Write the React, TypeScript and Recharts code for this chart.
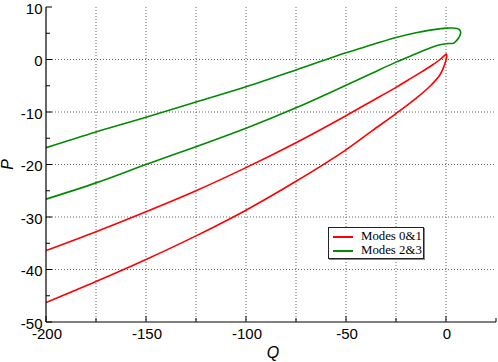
import React from "react";
import { LineChart, Line, XAxis, YAxis, CartesianGrid, Legend } from "recharts";

// Modes 0&1 (red loop): lower branch out to the tip, then upper branch back
const modes01Q = [-200, -175, -150, -125, -100, -75, -50, -37, -25, -15, -8, -3, -1, 0, 0.4, 0.2, -0.8, -3, -7, -12, -18, -25, -37, -50, -75, -100, -125, -150, -175, -200];
const modes01P = [-46.3, -42.3, -38.1, -33.6, -28.7, -23.2, -17.2, -13.6, -10.3, -7.4, -5.1, -2.9, -1.3, -0.1, 0.6, 1.05, 0.75, 0.0, -1.1, -2.3, -3.7, -5.3, -7.9, -10.7, -15.85, -20.6, -25.0, -29.0, -32.8, -36.4];

// Modes 2&3 (green loop)
const modes23Q = [-200, -175, -150, -125, -100, -75, -50, -37, -25, -15, -8, -3, 0, 2, 3.7, 5, 6.3, 7.1, 7.3, 6.8, 5.5, 3, 0, -3, -8, -15, -25, -37, -50, -75, -100, -125, -150, -175, -200];
const modes23P = [-26.6, -23.5, -20.0, -16.6, -13.1, -9.2, -4.9, -2.6, -0.5, 1.1, 2.2, 2.8, 3.0, 3.05, 3.1, 3.5, 4.1, 4.7, 5.2, 5.65, 5.9, 6.0, 5.97, 5.85, 5.6, 5.1, 4.2, 2.8, 1.3, -2.0, -5.2, -8.1, -11.0, -13.8, -16.8];

const xTicks = [-200, -175, -150, -125, -100, -75, -50, -25, 0, 25];
const yTicks = [-50, -45, -40, -35, -30, -25, -20, -15, -10, -5, 0, 5, 10];
const xGrid = [-175, -150, -125, -100, -75, -50, -25, 0];
const yGrid = [-40, -30, -20, -10, 0];

const seriesNames = ["Modes 0&1", "Modes 2&3"];
const seriesColors = ["#ff0000", "#008b00"];

const modes01 = modes01Q.map((q, i) => ({ q, p: modes01P[i] }));
const modes23 = modes23Q.map((q, i) => ({ q, p: modes23P[i] }));

const FONT = "'Liberation Sans', Arial, Helvetica, sans-serif";

// centripetal Catmull-Rom curve factory (smooth path through the data points)
const smoothCurve = (context: any) => {
  let pts: number[][] = [];
  return {
    areaStart() {},
    areaEnd() {},
    lineStart() {
      pts = [];
    },
    point(x: number, y: number) {
      pts.push([+x, +y]);
    },
    lineEnd() {
      if (!pts.length) return;
      context.moveTo(pts[0][0], pts[0][1]);
      const d = (a: number[], b: number[]) => Math.hypot(b[0] - a[0], b[1] - a[1]);
      for (let i = 0; i < pts.length - 1; i++) {
        const p1 = pts[i];
        const p2 = pts[i + 1];
        const p0 = i > 0 ? pts[i - 1] : p1;
        const p3 = i + 2 < pts.length ? pts[i + 2] : p2;
        const l01_2a = d(p0, p1), l12_2a = d(p1, p2), l23_2a = d(p2, p3);
        const l01_a = Math.sqrt(l01_2a), l12_a = Math.sqrt(l12_2a), l23_a = Math.sqrt(l23_2a);
        let c1x = p1[0], c1y = p1[1], c2x = p2[0], c2y = p2[1];
        if (l01_a > 1e-9) {
          const a = 2 * l01_2a + 3 * l01_a * l12_a + l12_2a;
          const n = 3 * l01_a * (l01_a + l12_a);
          c1x = (p1[0] * a - p0[0] * l12_2a + p2[0] * l01_2a) / n;
          c1y = (p1[1] * a - p0[1] * l12_2a + p2[1] * l01_2a) / n;
        }
        if (l23_a > 1e-9) {
          const b = 2 * l23_2a + 3 * l23_a * l12_a + l12_2a;
          const m = 3 * l23_a * (l23_a + l12_a);
          c2x = (p2[0] * b + p1[0] * l23_2a - p3[0] * l12_2a) / m;
          c2y = (p2[1] * b + p1[1] * l23_2a - p3[1] * l12_2a) / m;
        }
        context.bezierCurveTo(c1x, c1y, c2x, c2y, p2[0], p2[1]);
      }
    },
  };
};

const BottomTick = (props: any) => {
  const { x, y, payload } = props;
  const major = payload.value % 50 === 0;
  return (
    <g>
      <line x1={x} y1={y} x2={x} y2={y - (major ? 6 : 4)} stroke="#000" strokeWidth={1} />
      {major && payload.value !== 25 && (
        <text x={x + 1} y={y + 16.5} textAnchor="middle" fontSize={15} fontFamily={FONT} fill="#000">
          {payload.value}
        </text>
      )}
    </g>
  );
};

const TopTick = (props: any) => {
  const { x, y, payload } = props;
  const major = payload.value % 50 === 0;
  return <line x1={x} y1={y} x2={x} y2={y + (major ? 6 : 4)} stroke="#000" strokeWidth={1} />;
};

const LeftTick = (props: any) => {
  const { x, y, payload } = props;
  const major = payload.value % 10 === 0;
  return (
    <g>
      <line x1={x} y1={y} x2={x + (major ? 6 : 4)} y2={y} stroke="#000" strokeWidth={1} />
      {major && (
        <text x={x - 3.5} y={y + 6.5} textAnchor="end" fontSize={15} fontFamily={FONT} fill="#000">
          {payload.value}
        </text>
      )}
    </g>
  );
};

const RightTick = (props: any) => {
  const { x, y, payload } = props;
  const major = payload.value % 10 === 0;
  return <line x1={x} y1={y} x2={x - (major ? 6 : 4)} y2={y} stroke="#000" strokeWidth={1} />;
};

const LegendBox = () => (
  <div
    style={{
      width: 96,
      height: 32,
      border: "1px solid #222",
      boxShadow: "1px 1px 0 #888",
      background: "#fff",
      boxSizing: "border-box",
      fontFamily: "'Liberation Serif', 'Times New Roman', serif",
      fontSize: 12.8,
      color: "#000",
      position: "relative",
    }}
  >
    {seriesNames.map((n, i) => (
      <div key={n} style={{ position: "absolute", left: 0, top: 2 + i * 14, height: 14, width: 95 }}>
        <div style={{ position: "absolute", left: 4, top: 6, width: 20, height: 1.5, background: seriesColors[i] }} />
        <div style={{ position: "absolute", left: 32, top: -1, lineHeight: "14px", whiteSpace: "nowrap" }}>{n}</div>
      </div>
    ))}
  </div>
);

export default function App() {
  return (
    <div style={{ position: "absolute", left: 0, top: 0, width: 498, height: 362, background: "#fff" }}>
      <LineChart width={498} height={362} margin={{ top: 7, right: 2, bottom: 0, left: 0 }}>
        <CartesianGrid
          horizontalValues={yGrid}
          verticalValues={xGrid}
          stroke="#666"
          strokeDasharray="1 2"
          strokeWidth={1}
        />
        <XAxis
          dataKey="q"
          type="number"
          domain={[-200, 25]}
          allowDataOverflow
          ticks={xTicks}
          interval={0}
          tickSize={0}
          tickMargin={0}
          tickLine={false}
          height={40}
          axisLine={{ stroke: "#000", strokeWidth: 1.2 }}
          tick={<BottomTick />}
          label={{
            content: (p: any) => {
              const vb = p.viewBox;
              return (
                <text x={vb.x + vb.width / 2 + 2} y={vb.y + 36} textAnchor="middle" fontSize={16} fontStyle="italic" fontFamily={FONT} fill="#000">
                  Q
                </text>
              );
            },
          }}
        />
        <XAxis
          xAxisId="top"
          orientation="top"
          dataKey="q"
          type="number"
          domain={[-200, 25]}
          allowDataOverflow
          ticks={xTicks}
          interval={0}
          tickSize={0}
          tickMargin={0}
          tickLine={false}
          height={0}
          axisLine={{ stroke: "#000", strokeWidth: 1.2 }}
          tick={<TopTick />}
        />
        <YAxis
          type="number"
          domain={[-50, 10]}
          allowDataOverflow
          ticks={yTicks}
          interval={0}
          tickSize={0}
          tickMargin={0}
          tickLine={false}
          width={46}
          axisLine={{ stroke: "#000", strokeWidth: 1.2 }}
          tick={<LeftTick />}
          label={{
            content: (p: any) => {
              const vb = p.viewBox;
              const cx = 7;
              const cy = vb.y + vb.height / 2;
              return (
                <text x={cx} y={cy} transform={`rotate(-90 ${cx} ${cy})`} textAnchor="middle" dominantBaseline="central" fontSize={16} fontStyle="italic" fontFamily={FONT} fill="#000">
                  P
                </text>
              );
            },
          }}
        />
        <YAxis
          yAxisId="right"
          orientation="right"
          type="number"
          domain={[-50, 10]}
          allowDataOverflow
          ticks={yTicks}
          interval={0}
          tickSize={0}
          tickMargin={0}
          tickLine={false}
          width={0}
          axisLine={{ stroke: "#000", strokeWidth: 1.2 }}
          tick={<RightTick />}
        />
        <Line
          data={modes01}
          dataKey="p"
          name={seriesNames[0]}
          type={smoothCurve as any}
          stroke={seriesColors[0]}
          strokeWidth={1.6}
          dot={false}
          activeDot={false}
          isAnimationActive={false}
        />
        <Line
          data={modes23}
          dataKey="p"
          name={seriesNames[1]}
          type={smoothCurve as any}
          stroke={seriesColors[1]}
          strokeWidth={1.6}
          dot={false}
          activeDot={false}
          isAnimationActive={false}
        />
        <Legend
          layout="horizontal"
          align="center"
          verticalAlign="middle"
          width={96}
          wrapperStyle={{ left: 328, top: 227, width: 96, height: 32 }}
          content={() => <LegendBox />}
        />
      </LineChart>
    </div>
  );
}
